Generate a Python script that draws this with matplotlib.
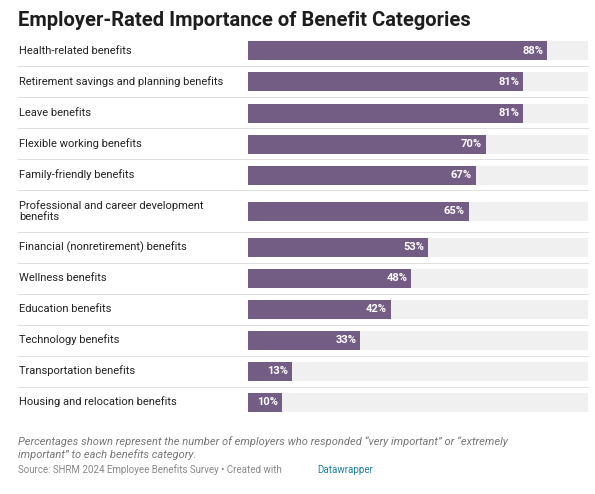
import matplotlib.pyplot as plt

categories = [
    "Health-related benefits",
    "Retirement savings and planning benefits",
    "Leave benefits",
    "Flexible working benefits",
    "Family-friendly benefits",
    "Professional and career development\nbenefits",
    "Financial (nonretirement) benefits",
    "Wellness benefits",
    "Education benefits",
    "Technology benefits",
    "Transportation benefits",
    "Housing and relocation benefits",
]
values = [88, 81, 81, 70, 67, 65, 53, 48, 42, 33, 13, 10]

BAR_COLOR = "#735d85"
plt.rcParams["font.family"] = ["Roboto", "DejaVu Sans"]

fig = plt.figure(figsize=(5.95, 4.94), dpi=100)
ax = fig.add_axes([0, 0, 1, 1])
ax.set_xlim(0, 595)
ax.set_ylim(494, 0)
ax.axis("off")

# pixel layout
x_label, x_bar, bar_w = 18, 248, 340
scale = bar_w / 100
row_h = [31, 31, 31, 31, 31, 41, 31, 31, 31, 31, 31, 31]
top = 35.5
y = top
centers = []
for i, h in enumerate(row_h):
    c = y + h / 2
    if i == 5:
        c -= 0
    centers.append(c)
    y += h
    if i < len(row_h) - 1:
        ax.plot([x_label, 588], [y, y], color="#dddddd", lw=0.7)

ax.text(x_label, 20, "Employer-Rated Importance of Benefit Categories",
        fontsize=14.5, fontweight="bold", va="center", color="#1d1d1d")

for cat, v, c in zip(categories, values, centers):
    ax.barh(c, 100 * scale, left=x_bar, height=19, color="#f0f0f0")
    ax.barh(c, v * scale, left=x_bar, height=19, color=BAR_COLOR)
    ax.text(x_label + 1, c, cat, fontsize=8, va="center", color="#222222",
            linespacing=1.15)
    ax.text(x_bar + v * scale - 4, c, f"{v}%", fontsize=8, fontweight="bold",
            color="white", ha="right", va="center")

ax.text(x_label, 436, "Percentages shown represent the number of employers who responded \u201cvery important\u201d or \u201cextremely\nimportant\u201d to each benefits category.",
        fontsize=8, style="italic", color="#777777", va="top", linespacing=1.3)
ax.text(x_label, 470, "Source: SHRM 2024 Employee Benefits Survey \u2022 Created with ",
        fontsize=7, color="#888888", va="center")
ax.text(317, 470, "Datawrapper", fontsize=7, color="#1d81a2", va="center")

fig.savefig("out.png", dpi=100)
